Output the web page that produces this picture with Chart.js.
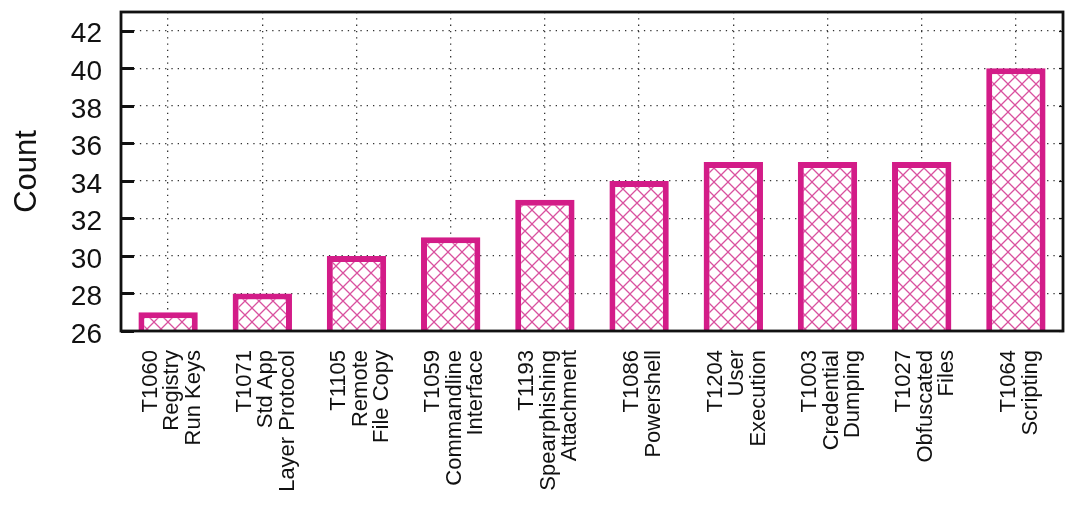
<!DOCTYPE html>
<html>
<head>
<meta charset="utf-8">
<script src="https://cdn.jsdelivr.net/npm/chart.js@4/dist/chart.umd.min.js"></script>
<style>
  html, body { margin: 0; padding: 0; background: #fff; }
  canvas { display: block; }
</style>
</head>
<body>
<canvas id="c" width="1080" height="506"></canvas>
<script>
const categories = [
  ["T1060", "Registry", "Run Keys"],
  ["T1071", "Std App", "Layer Protocol"],
  ["T1105", "Remote", "File Copy"],
  ["T1059", "Commandline", "Interface"],
  ["T1193", "Spearphishing", "Attachment"],
  ["T1086", "Powershell"],
  ["T1204", "User", "Execution"],
  ["T1003", "Credential", "Dumping"],
  ["T1027", "Obfuscated", "Files"],
  ["T1064", "Scripting"]
];
const counts = [27, 28, 30, 31, 33, 34, 35, 35, 35, 40];
const yTicks = [26, 28, 30, 32, 34, 36, 38, 40, 42];
const yMin = 26;
const yMax = 43;

const MAGENTA = '#d31c88';
const HATCH = '#d9519f';
const FONT = '"Liberation Sans", Arial, Helvetica, sans-serif';

function makeHatch() {
  const s = 14;
  const p = document.createElement('canvas');
  p.width = s; p.height = s;
  const g = p.getContext('2d');
  g.fillStyle = '#ffffff';
  g.fillRect(0, 0, s, s);
  g.strokeStyle = HATCH;
  g.lineWidth = 1.3;
  g.beginPath();
  g.moveTo(-1, -1); g.lineTo(s + 1, s + 1);
  g.moveTo(s + 1, -1); g.lineTo(-1, s + 1);
  g.stroke();
  return g.createPattern(p, 'repeat');
}

const framePlugin = {
  id: 'frame',
  afterDatasetsDraw(chart) {
    const {ctx, chartArea: a} = chart;
    const ys = chart.scales.y;
    ctx.save();
    ctx.strokeStyle = '#111';
    ctx.lineWidth = 3;
    yTicks.forEach(v => {
      const py = Math.round(ys.getPixelForValue(v)) + 0.5;
      ctx.beginPath();
      ctx.moveTo(a.left, py); ctx.lineTo(a.left + 13, py);
      ctx.stroke();
    });
    ctx.lineWidth = 1.2;
    yTicks.forEach(v => {
      const py = Math.round(ys.getPixelForValue(v)) + 0.5;
      ctx.beginPath();
      ctx.moveTo(a.right - 4, py); ctx.lineTo(a.right, py);
      ctx.stroke();
    });
    ctx.lineWidth = 2.8;
    ctx.strokeRect(a.left, a.top, a.right - a.left, a.bottom - a.top);
    ctx.restore();
  },
  afterDraw(chart) {
    const {ctx, chartArea: a} = chart;
    const xs = chart.scales.x;
    const lh = 21.5;
    ctx.save();
    ctx.fillStyle = '#111';
    ctx.font = '22px ' + FONT;
    ctx.textAlign = 'right';
    ctx.textBaseline = 'middle';
    categories.forEach((lines, i) => {
      const cx = xs.getPixelForValue(i) + 4;
      const n = lines.length;
      lines.forEach((t, j) => {
        const lx = cx + (j - (n - 1) / 2) * lh;
        ctx.save();
        ctx.translate(lx, a.bottom + 19);
        ctx.rotate(-Math.PI / 2);
        ctx.fillText(t, 0, 0);
        ctx.restore();
      });
    });
    ctx.restore();
  }
};

new Chart(document.getElementById('c'), {
  type: 'bar',
  data: {
    labels: categories.map(l => l.join(' ')),
    datasets: [{
      label: 'Count',
      data: counts,
      backgroundColor: makeHatch(),
      borderColor: MAGENTA,
      borderWidth: 6,
      borderSkipped: false,
      barPercentage: 0.63,
      categoryPercentage: 1.0
    }]
  },
  options: {
    responsive: false,
    animation: false,
    devicePixelRatio: 1,
    layout: { padding: { top: 12, right: 17, left: 0, bottom: 0 } },
    plugins: { legend: { display: false }, tooltip: { enabled: false } },
    scales: {
      x: {
        grid: {
          offset: false,
          color: '#333',
          lineWidth: 1.3,
          drawTicks: false
        },
        border: { display: false, dash: [1.3, 5] },
        ticks: { display: false },
        afterFit(scale) { scale.height = 175; scale.paddingLeft = 0; scale.paddingRight = 0; }
      },
      y: {
        min: yMin,
        max: yMax,
        afterBuildTicks(scale) { scale.ticks = yTicks.map(v => ({ value: v })); },
        grid: {
          color: '#333',
          lineWidth: 1.3,
          drawTicks: false
        },
        border: { display: false, dash: [1.3, 5] },
        ticks: {
          color: '#111',
          font: { family: FONT, size: 28 },
          padding: 19,
          labelOffset: 4
        },
        title: {
          display: true,
          text: 'Count',
          color: '#111',
          font: { family: FONT, size: 31 },
          padding: { top: 9, bottom: 0 }
        },
        afterFit(scale) { scale.width = 121; scale.paddingTop = 0; scale.paddingBottom = 0; }
      }
    }
  },
  plugins: [framePlugin]
});
</script>
</body>
</html>
